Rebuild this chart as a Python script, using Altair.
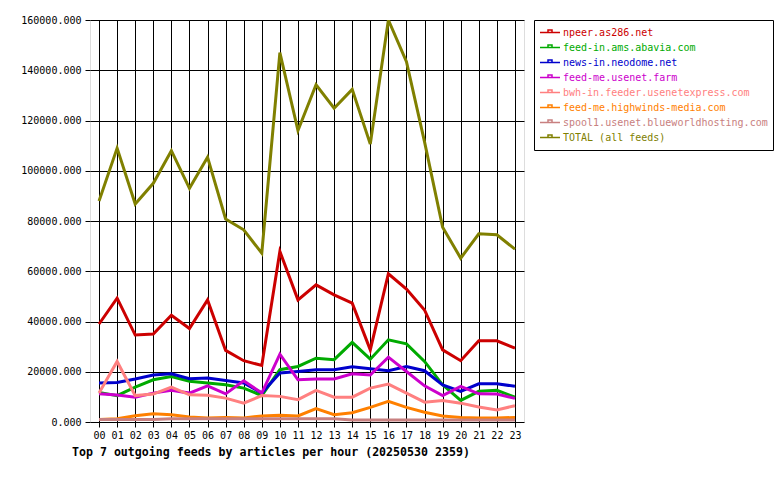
import altair as alt
import pandas as pd

hours = ["00", "01", "02", "03", "04", "05", "06", "07", "08", "09", "10", "11",
         "12", "13", "14", "15", "16", "17", "18", "19", "20", "21", "22", "23"]

feeds = [
    "npeer.as286.net",
    "feed-in.ams.abavia.com",
    "news-in.neodome.net",
    "feed-me.usenet.farm",
    "bwh-in.feeder.usenetexpress.com",
    "feed-me.highwinds-media.com",
    "spool1.usenet.blueworldhosting.com",
    "TOTAL (all feeds)",
]
colors = ["#cc0000", "#00aa00", "#0000cc", "#cc00cc", "#ff8080", "#ff8000", "#c88080", "#808000"]

npeer = [39000, 49300, 34600, 35000, 42500, 37200, 48600, 28500, 24400, 22500, 67900, 48600,
         54600, 50600, 47300, 28700, 59000, 52900, 44600, 28700, 24400, 32300, 32300, 29400]
ams = [11800, 10500, 13900, 16800, 18100, 16200, 15500, 14800, 13500, 10500, 20800, 22100,
       25400, 24800, 31700, 25000, 32700, 31100, 24100, 14800, 8600, 12200, 12600, 9900]
neodome = [15500, 15700, 17100, 18700, 19200, 17200, 17500, 16500, 15500, 11500, 19500, 20100,
           20800, 20800, 22000, 21200, 20400, 22100, 20400, 14800, 12200, 15200, 15200, 14200]
farm = [11200, 10700, 9900, 11500, 12600, 11500, 14400, 11200, 16400, 11500, 27000, 16800,
        17100, 17100, 19200, 18700, 25800, 20100, 14400, 10500, 14200, 11200, 11100, 9400]
bwh = [11500, 24100, 10500, 11100, 13900, 10800, 10600, 9500, 7500, 10500, 10200, 8900,
       12600, 9900, 9900, 13500, 15100, 11500, 7900, 8600, 7500, 6000, 4800, 6500]
highwinds = [1000, 1300, 2500, 3300, 2900, 2000, 1600, 1800, 1600, 2400, 2700, 2400,
             5300, 2900, 3700, 5800, 8200, 5800, 3900, 2400, 1800, 1600, 1600, 1800]
spool1 = [1000, 1000, 1000, 1000, 1300, 1300, 1300, 1300, 1300, 1300, 1300, 1300,
          1300, 1300, 800, 800, 800, 800, 800, 800, 800, 800, 800, 800]
total = [88000, 109000, 86800, 95000, 108000, 93000, 105400, 80800, 76500, 67200, 147000, 116000,
         134200, 124900, 132400, 110600, 160000, 143400, 111500, 77500, 65200, 74900, 74500, 68800]

y_ticks = [0, 20000, 40000, 60000, 80000, 100000, 120000, 140000, 160000]

series = [npeer, ams, neodome, farm, bwh, highwinds, spool1, total]
rows = []
for name, vals in zip(feeds, series):
    for h, v in zip(hours, vals):
        rows.append({"hour": h, "feed": name, "articles": v})
df = pd.DataFrame(rows)

font = "DejaVu Sans Mono"

chart = alt.Chart(df).mark_line(strokeWidth=3, clip=True).encode(
    x=alt.X(
        "hour:O",
        sort=hours,
        axis=alt.Axis(
            title=None, labelAngle=0, grid=True, gridColor="black", gridWidth=1, gridOpacity=1,
            domain=False, tickSize=5, tickColor="black", labelFont=font, labelFontSize=10,
            labelColor="black", labelPadding=3,
        ),
    ),
    y=alt.Y(
        "articles:Q",
        scale=alt.Scale(domain=[0, 160000], nice=False, zero=True),
        axis=alt.Axis(
            title=None, values=y_ticks, format=".3f", grid=True, gridColor="black", gridWidth=1,
            gridOpacity=1, domain=False, tickSize=5, tickColor="black", labelFont=font,
            labelFontSize=10, labelColor="black", labelPadding=4,
        ),
    ),
    color=alt.Color(
        "feed:N",
        sort=feeds,
        scale=alt.Scale(domain=feeds, range=colors),
        legend=alt.Legend(
            title=None, orient="none", legendX=444, legendY=0, padding=5,
            strokeColor="black", fillColor="white", cornerRadius=0,
            labelFont=font, labelFontSize=10, labelLimit=400, labelOffset=2,
            symbolType="M-1,0H1M-0.2,0V-0.25H0.2V0", symbolSize=400, symbolStrokeWidth=1.5,
            rowPadding=0, clipHeight=15,
            labelColor=alt.ExprRef("scale('color', datum.value)"),
        ),
    ),
).properties(
    width=434,
    height=402,
    autosize=alt.AutoSizeParams(type="none"),
    padding={"left": 90, "top": 20, "right": 256, "bottom": 58},
    title=alt.Title(
        "Top 7 outgoing feeds by articles per hour (20250530 2359)",
        orient="bottom", anchor="start", frame="group", dx=-18, offset=7, font=font,
        fontSize=11.6, fontWeight="bold", color="black",
    ),
).configure_view(
    fill="#e0e0e0", stroke="black", strokeWidth=1
).configure(background="white")

chart.save("out.html", embed_options={"renderer": "svg", "actions": False})
